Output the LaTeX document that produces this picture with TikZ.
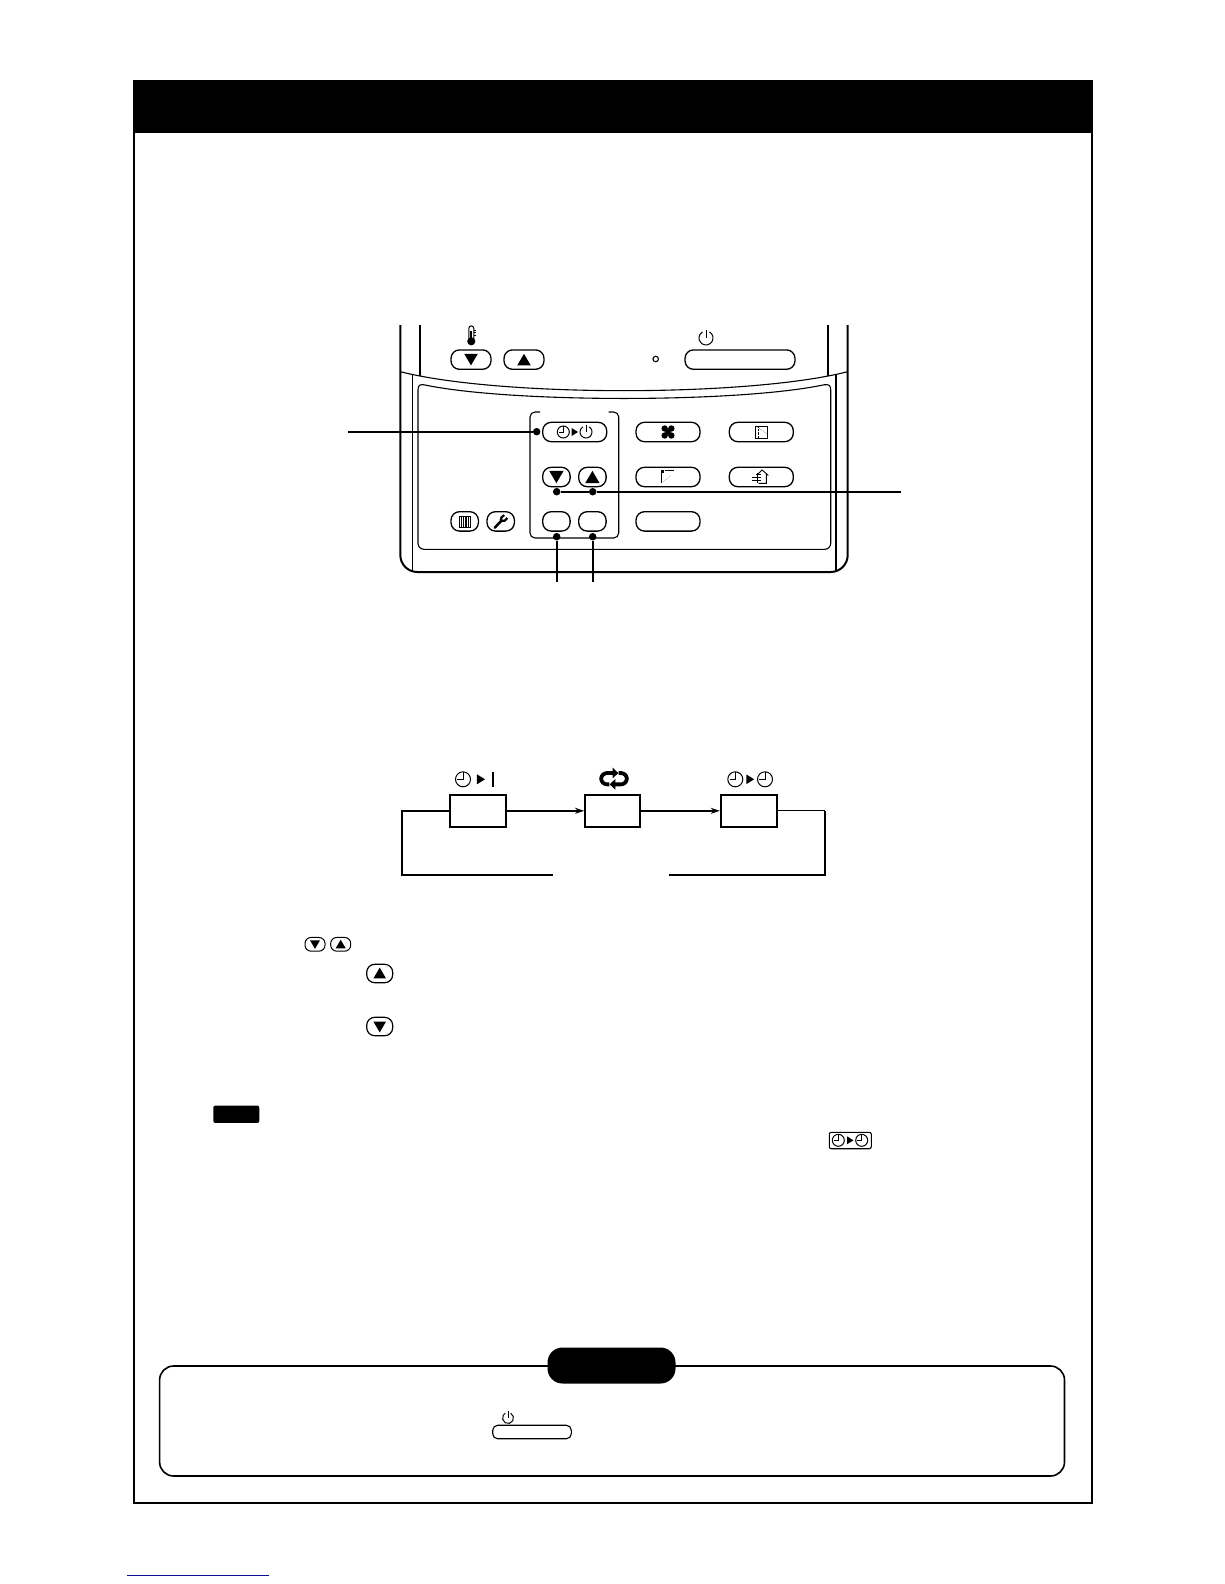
\documentclass[tikz,border=0pt]{standalone}
\usetikzlibrary{arrows.meta}
\definecolor{linkblue}{RGB}{15,15,150}
\tikzset{
  pill/.style={draw=black,fill=white,line width=1.3pt,rounded corners=8.5pt,inner sep=0pt,minimum height=19.4pt},
  minipill/.style={draw=black,fill=white,line width=1pt,rounded corners=6pt,inner sep=0pt},
  wide/.style={pill,minimum width=64pt},
  narrow/.style={pill,minimum width=27.4pt},
  dotn/.style={circle,fill=black,inner sep=0pt,minimum size=7.5pt},
  lead/.style={line width=1.8pt},
  flowbox/.style={draw=black,line width=1.8pt,inner sep=0pt,minimum height=32.3pt},
  flowline/.style={line width=1.8pt},
  ic/.style={yscale=-1,scale=#1},
  triup/.pic={\fill (-1,-.85)--(1,-.85)--(0,.85)--cycle;},
  tridn/.pic={\fill (-1,.85)--(1,.85)--(0,-.85)--cycle;},
  trirt/.pic={\fill (-.75,1)--(-.75,-1)--(.85,0)--cycle;},
  clockic/.pic={\draw[line width=1pt] (0,0) circle (1); \draw[line width=.9pt] (0,1)--(0,0)--(-.75,0);},
  poweric/.pic={\draw[line width=1pt] (.5,.87) arc[start angle=60,end angle=-240,radius=1]; \draw[line width=1pt] (0,1.2)--(0,0);},
  fanic/.pic={\foreach \a/\b in {.48/.5,-.48/.5,.48/-.5,-.48/-.5}{\fill (\a,\b) circle (.46);} \fill (0,0) circle (.42);},
  docic/.pic={\draw[line width=.7pt] (-1,-1) rectangle (1,1); \draw[line width=.4pt,densely dotted] (-.8,1)--(.9,-.3); \draw[line width=.4pt,densely dotted] (-.55,1)--(-.55,-1);},
  louveric/.pic={\fill (-1,1) rectangle (-.55,.6); \draw[line width=.4pt] (-.4,.9)--(1,.9); \draw[line width=.5pt] (-.95,.6)--(-.95,-1); \draw[line width=.3pt,densely dotted] (-.6,-.8)--(.5,.2);},
  houseic/.pic={\draw[line width=.9pt] (-.2,-.9)--(.9,-.9)--(.9,.3)--(1.1,.3)--(.3,1)--(-.45,.3); \draw[line width=.9pt] (-1.1,-.1)--(.2,-.1) (-1.1,-.55)--(.2,-.55) (-.6,.35)--(.1,.35) (-.3,.6)--(-.3,-.9);},
  gridic/.pic={\draw[line width=.3pt] (-1,-1) grid[step=.33] (1,1); \draw[line width=.7pt] (-1,-1) rectangle (1,1);},
  wrenchic/.pic={\draw[line width=2.6pt,line cap=round] (-.85,-.9)--(.15,.15); \draw[line width=2.2pt] (.0,.15)--(.1,.55)--(.5,.9);\draw[line width=2.2pt] (.2,.05)--(.6,.12)--(.95,.5);},
  thermoic/.pic={\draw[line width=1pt] (-.42,-.6)--(-.42,1.1) arc[start angle=180,end angle=0,radius=.42]--(.42,-.6); \fill (0,-1.05) circle (.68); \fill (-.2,-1)rectangle(.1,.7); \draw[line width=.4pt] (.42,.8)--(.75,.8) (.42,.4)--(.75,.4) (.42,0)--(.75,0);},
  recycleic/.pic={
    \foreach \r in {0,180}{
      \begin{scope}[rotate=\r]
        \draw[line width=3.8pt] (-.05,.42)--(-.5,.42) arc[start angle=90,end angle=270,x radius=.45,y radius=.42]--(-.35,-.42);
        \fill (-.1,.82)--(.32,.42)--(-.1,.02)--cycle;
      \end{scope}}
  },
}
\begin{document}
\begin{tikzpicture}[x=1pt,y=-1pt]
\useasboundingbox (0,0) rectangle (1224,1584);
\fill[white] (0,0) rectangle (1224,1584);

% page frame
\node[draw=black,line width=2pt,inner sep=0pt,minimum width=958pt,minimum height=1422pt] (frame) at (612.5,792) {};
\node[fill=black,inner sep=0pt,minimum width=958pt,minimum height=53pt] (header) at (612.5,107) {};

% remote body
\draw[line width=2pt] (400.3,325) -- (400.3,555) arc[start angle=180,end angle=90,radius=17] -- (830.7,572) arc[start angle=90,end angle=0,radius=17] -- (847.7,325);
\draw[line width=1.1pt] (420,325) -- (420,376);
\draw[line width=1.1pt] (828,325) -- (828,376);
\draw[line width=1.1pt] (412.7,374) -- (412.7,572);
\draw[line width=1.1pt] (836,374) -- (836,572);
\draw[line width=1.1pt] (400.3,371.7) .. controls (500,397) and (748,397) .. (847.7,371.7);
\draw[line width=1.1pt,rounded corners=6pt] (418,390) -- (418,549.3) -- (830.7,549.3) -- (830.7,390);
\draw[line width=1.1pt] (418,390) .. controls (418,385.5) and (420,384) .. (424,384.8) .. controls (510,403) and (738,403) .. (824,384.8) .. controls (829,384) and (830.7,385.5) .. (830.7,390);
\draw[line width=1.1pt,rounded corners=5pt] (540,412) -- (530,412) -- (530,538) -- (618.7,538) -- (618.7,412) -- (608.7,412);

% upper buttons
\node[pill,minimum width=40pt] (tempdn) at (471,359.6) {};
\node[pill,minimum width=40pt] (tempup) at (524,359.6) {};
\node[pill,minimum width=110pt] (power) at (740,359.6) {};
\node[circle,draw=black,line width=1.1pt,inner sep=0pt,minimum size=5.5pt] (led) at (655.7,359) {};
\pic[ic=6.8] at (471,359.6) {tridn};
\pic[ic=6.8] at (524,359.6) {triup};
\pic[ic=7] at (706,338) {poweric};
\pic[ic=6] at (471.3,335) {thermoic};

% panel buttons
\node[wide] (timer) at (574.7,432) {};
\node[narrow] (setdn) at (556.4,477) {};
\node[narrow] (setup) at (592.4,477) {};
\node[narrow] (setl) at (556.4,521.4) {};
\node[narrow] (setr) at (592.4,521.4) {};
\node[narrow] (gridb) at (464.7,521.4) {};
\node[narrow] (wrenchb) at (500.7,521.4) {};
\node[wide] (fan) at (668,432) {};
\node[wide] (doc) at (761.3,432) {};
\node[wide] (louver) at (668,477) {};
\node[wide] (house) at (761.3,477) {};
\node[wide] (blank) at (668,521.4) {};
\pic[ic=6] at (563.3,432) {clockic};
\pic[ic=4] at (574.6,432) {trirt};
\pic[ic=6] at (586,432) {poweric};
\pic[ic=7.2] at (556.4,477) {tridn};
\pic[ic=7.2] at (592.4,477) {triup};
\pic[ic=5.5] at (464.7,521.4) {gridic};
\pic[ic=7] at (500.7,521.4) {wrenchic};
\pic[ic=7] at (668,432) {fanic};
\pic[ic=6] at (761,432) {docic};
\pic[ic=6.5] at (667.5,476.5) {louveric};
\pic[ic=7] at (760,477) {houseic};

% leaders
\node[dotn] (dtimer) at (536.7,431.7) {};
\node[dotn] (ddn) at (556.7,491.7) {};
\node[dotn] (dup) at (592.7,491.7) {};
\node[dotn] (dl) at (556.7,536.7) {};
\node[dotn] (dr) at (592.7,536.7) {};
\coordinate (endtimer) at (348,431.7);
\coordinate (endset) at (901,491.7);
\coordinate (endl) at (556.7,581.7);
\coordinate (endr) at (592.7,581.7);
\draw[lead] (dtimer) -- (endtimer);
\draw[lead] (ddn) -- (dup) -- (endset);
\draw[lead] (dl) -- (endl);
\draw[lead] (dr) -- (endr);

% flow
\node[flowbox,minimum width=56.3pt] (box1) at (478.2,810.8) {};
\node[flowbox,minimum width=55pt] (box2) at (612.5,810.8) {};
\node[flowbox,minimum width=56.6pt] (box3) at (749,810.8) {};
\coordinate (la) at (402.3,810.8);
\coordinate (lb) at (402.3,874.7);
\coordinate (lc) at (552.7,874.7);
\coordinate (ra) at (825.3,810.8);
\coordinate (rb) at (825.3,874.7);
\coordinate (rc) at (669.3,874.7);
\draw[flowline,-{Stealth[length=9pt,width=6pt]}] (box1) -- (box2);
\draw[flowline,-{Stealth[length=9pt,width=6pt]}] (box2) -- (box3);
\draw[flowline] (box1) -- (la) -- (lb) -- (lc);
\draw[line width=1.1pt] (box3) -- (ra);
\draw[flowline] (ra) -- (rb) -- (rc);
\pic[ic=7.5] at (463,779.3) {clockic};
\pic[ic=5] at (480.7,779.3) {trirt};
\draw[line width=1.6pt] (492.7,771.7) -- (492.7,786.7);
\pic[ic=13.5] at (614,778.7) {recycleic};
\pic[ic=7.5] at (735.3,779.3) {clockic};
\pic[ic=4.8] at (750,779.3) {trirt};
\pic[ic=7.5] at (765,779.3) {clockic};

% inline symbols
\node[minipill,minimum width=20pt,minimum height=13.7pt] (smalldn) at (315,944.3) {};
\node[minipill,minimum width=20pt,minimum height=13.7pt] (smallup) at (340.7,944.3) {};
\pic[ic=5] at (315,944.6) {tridn};
\pic[ic=5] at (340.7,944) {triup};
\node[minipill,line width=1.2pt,rounded corners=8pt,minimum width=26pt,minimum height=18.4pt] (bigup) at (379.7,973.5) {};
\node[minipill,line width=1.2pt,rounded corners=8pt,minimum width=26pt,minimum height=18.4pt] (bigdn) at (379.7,1026.5) {};
\pic[ic=6.3] at (379.7,973) {triup};
\pic[ic=6.3] at (379.7,1027) {tridn};
\node[fill=black,rounded corners=2pt,inner sep=0pt,minimum width=46pt,minimum height=17.3pt] (notetag) at (236.3,1114.3) {};
\node[draw=black,line width=1.1pt,rounded corners=2pt,inner sep=0pt,minimum width=42pt,minimum height=16.4pt] (clockbox) at (850.3,1140.5) {};
\pic[ic=6] at (838.3,1140.3) {clockic};
\pic[ic=4] at (850,1140.3) {trirt};
\pic[ic=6] at (861.7,1140.3) {clockic};

% bottom box
\draw[line width=1.6pt,rounded corners=14pt] (159.6,1366) rectangle (1064.5,1476);
\node[fill=black,rounded corners=15pt,inner sep=0pt,minimum width=128pt,minimum height=36pt] (pillhead) at (611.5,1365.5) {};
\node[minipill,line width=1.1pt,rounded corners=5pt,minimum width=78.6pt,minimum height=13.5pt] (powersmall) at (532,1432) {};
\pic[ic=5.5] at (508,1418) {poweric};

% link underline
\draw[linkblue,line width=1.3pt] (127,1575.3) -- (269,1575.3);
\end{tikzpicture}
\end{document}
